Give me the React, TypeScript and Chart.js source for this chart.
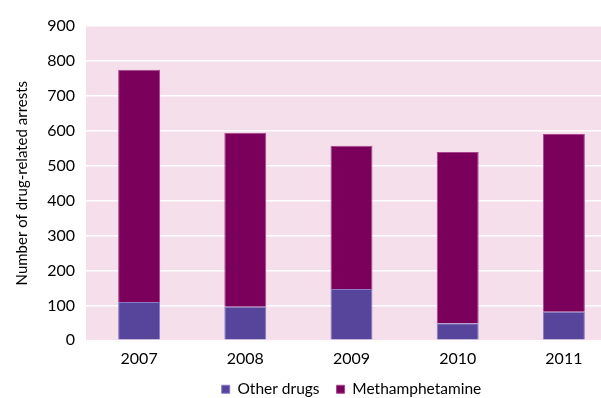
import React, { useEffect, useRef } from "react";
import { Chart, registerables } from "chart.js";

Chart.register(...registerables);

const years = ["2007", "2008", "2009", "2010", "2011"];
const otherDrugs = [110, 96, 147, 49, 82];
const methamphetamine = [665, 498, 410, 490, 509];
const yTicks = [0, 100, 200, 300, 400, 500, 600, 700, 800, 900];

const FONT = "Lato, 'Liberation Sans', sans-serif";

const plotBackground = {
  id: "plotBackground",
  beforeDraw(chart: any) {
    const { ctx, chartArea } = chart;
    ctx.save();
    ctx.fillStyle = "#F4DFEB";
    ctx.fillRect(chartArea.left, chartArea.top - 1, chartArea.right - chartArea.left, chartArea.bottom - chartArea.top + 2);
    ctx.restore();
  },
};

export default function App() {
  const ref = useRef<HTMLCanvasElement>(null);

  useEffect(() => {
    const chart = new Chart(ref.current!, {
      type: "bar",
      data: {
        labels: years,
        datasets: [
          {
            label: "Other drugs",
            data: otherDrugs,
            backgroundColor: "#56459B",
            borderColor: "#8A7BC4",
            borderWidth: 1,
            categoryPercentage: 1,
            barPercentage: 0.395,
          },
          {
            label: "Methamphetamine",
            data: methamphetamine,
            backgroundColor: "#7A005C",
            borderColor: "#A8478F",
            borderWidth: 1,
            categoryPercentage: 1,
            barPercentage: 0.395,
          },
        ],
      },
      options: {
        animation: false,
        responsive: false,
        maintainAspectRatio: false,
        layout: { padding: { top: 26, left: 0, right: 8, bottom: -9 } },
        plugins: {
          tooltip: { enabled: false },
          legend: {
            position: "bottom",
            fullSize: false,
            labels: {
              boxWidth: 8,
              boxHeight: 8,
              padding: 17,
              color: "#000",
              font: { family: FONT, size: 15.5 },
            },
          },
        },
        scales: {
          x: {
            stacked: true,
            grid: { display: false, drawTicks: false },
            border: { display: false },
            ticks: { color: "#000", font: { family: FONT, size: 16 }, padding: 9 },
            afterFit: (scale: any) => {
              scale.height -= 13;
            },
          },
          y: {
            stacked: true,
            min: 0,
            max: 900,
            afterBuildTicks: (scale: any) => {
              scale.ticks = yTicks.map((v) => ({ value: v }));
            },
            afterFit: (scale: any) => {
              scale.width = 86;
            },
            grid: { color: "#FFFFFF", lineWidth: 1.5, drawTicks: false },
            border: { display: false },
            ticks: { color: "#000", font: { family: FONT, size: 16 }, padding: 11 },
            title: {
              display: true,
              text: "Number of drug-related arrests",
              color: "#000",
              font: { family: FONT, size: 15 },
              padding: { top: 13, bottom: 0 },
            },
          },
        },
      },
      plugins: [plotBackground],
    });
    return () => chart.destroy();
  }, []);

  return (
    <div style={{ position: "fixed", left: 0, top: 0, width: 601, height: 398, overflow: "hidden", background: "#fff" }}>
      <canvas ref={ref} width={625} height={398} style={{ display: "block" }} />
    </div>
  );
}
